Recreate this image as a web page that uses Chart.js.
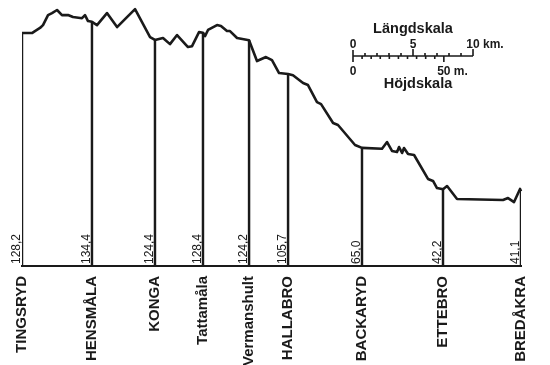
<!DOCTYPE html>
<html>
<head>
<meta charset="utf-8">
<script src="https://cdn.jsdelivr.net/npm/chart.js@4.4.0/dist/chart.umd.min.js"></script>
<style>
  html, body { margin: 0; padding: 0; background: #fff; }
  #wrap { width: 550px; height: 365px; }
</style>
</head>
<body>
<div id="wrap"><canvas id="myChart" width="550" height="365"></canvas></div>
<script>
// stations: name, distance from Tingsryd (km), height above sea (m)
const stationNames = ["TINGSRYD", "HENSMÅLA", "KONGA", "Tattamåla", "Vermanshult", "HALLABRO", "BACKARYD", "ETTEBRO", "BREDÅKRA"];
const stationKm = [0, 5.83, 11.08, 15.08, 18.92, 22.17, 28.33, 35.08, 41.58];
const stationHeight = [128.2, 134.4, 124.4, 128.4, 124.2, 105.7, 65.0, 42.2, 41.1];
const heightLabels = ["128,2", "134,4", "124,4", "128,4", "124,2", "105,7", "65,0", "42,2", "41,1"];

// track profile
const profileKm = [
  0, 0.83, 1.08, 1.5, 1.75, 2.17, 2.5, 2.92, 3.33, 3.83, 4.25, 5.0, 5.25, 5.5,
  5.83, 6.25, 7.08, 7.92, 8.75, 9.42, 10.67,
  11.08, 11.75, 12.33, 12.92, 13.83, 14.17, 14.75,
  15.08, 15.25, 15.5, 16.25, 16.58, 17.08, 17.33, 17.92,
  18.92, 19.58, 20.33, 20.83, 21.42,
  22.17, 22.58, 23.42, 23.83, 24.58, 24.92, 25.92, 26.33, 27.75,
  28.33, 30.0, 30.42, 30.83, 31.25, 31.42, 31.67, 31.83, 32.17, 32.67, 33.83, 34.25, 34.58,
  35.08, 35.42, 36.25, 40.08, 40.5, 41.0, 41.5, 41.58
];
const profileHeight = [
  128.2, 128.2, 129.3, 131.0, 132.6, 138.1, 139.2, 140.9, 138.1, 138.1, 137.0, 136.4, 138.1, 134.8,
  134.4, 132.6, 139.2, 131.5, 137.0, 141.4, 126.0,
  124.4, 125.5, 122.1, 127.1, 120.5, 121.0, 128.7,
  128.4, 126.5, 129.9, 132.6, 132.1, 129.3, 129.3, 125.5,
  124.2, 112.8, 115.0, 113.3, 106.2,
  105.7, 105.0, 100.7, 99.6, 90.2, 89.1, 78.7, 77.6, 66.6,
  65.0, 64.5, 68.2, 63.3, 62.7, 65.5, 62.2, 64.9, 61.6, 61.1, 47.9, 46.8, 42.9,
  42.2, 44.0, 36.9, 36.3, 37.4, 35.2, 42.4, 41.1
];

const ink = "#1a1a1a";
const fontFamily = "'Liberation Sans', Arial, sans-serif";
Chart.defaults.font.family = fontFamily;
Chart.defaults.color = ink;

// height numbers at the stations and the two scale bars
const profileText = {
  id: "profileText",
  afterDraw(chart) {
    const ctx = chart.ctx;
    const x = chart.scales.x;
    const y = chart.scales.y;
    const base = y.getPixelForValue(0);
    ctx.save();
    ctx.fillStyle = ink;
    ctx.strokeStyle = ink;
    ctx.font = "12px " + fontFamily;
    ctx.textAlign = "left";
    ctx.textBaseline = "alphabetic";
    heightLabels.forEach((txt, i) => {
      const px = x.getPixelForValue(stationKm[i]);
      ctx.save();
      ctx.translate(px - 2, base - 2);
      ctx.rotate(-Math.PI / 2);
      ctx.fillText(txt, 0, 0);
      ctx.restore();
    });

    // Längdskala / Höjdskala
    const kmLen = x.getPixelForValue(10) - x.getPixelForValue(0);
    const mLen = y.getPixelForValue(0) - y.getPixelForValue(50);
    const ox = 353, oy = 56;
    ctx.lineWidth = 1.6;
    ctx.beginPath();
    ctx.moveTo(ox, oy); ctx.lineTo(ox + kmLen, oy);
    ctx.moveTo(ox, oy - 6); ctx.lineTo(ox, oy + 6);
    ctx.moveTo(ox + kmLen, oy); ctx.lineTo(ox + kmLen, oy - 7);
    for (let k = 1; k < 10; k++) {
      const px = ox + kmLen * k / 10;
      ctx.moveTo(px, oy); ctx.lineTo(px, oy - (k === 5 ? 7 : 3));
    }
    for (let k = 1; k <= 10; k++) {
      const px = ox + mLen * k / 10;
      ctx.moveTo(px, oy); ctx.lineTo(px, oy + (k === 10 ? 6 : 3));
    }
    ctx.stroke();

    ctx.font = "bold 12px " + fontFamily;
    ctx.textAlign = "center";
    ctx.fillText("0", ox, oy - 8);
    ctx.fillText("5", ox + kmLen / 2, oy - 8);
    ctx.fillText("10", ox + kmLen, oy - 8);
    ctx.fillText("0", ox, oy + 19);
    ctx.fillText("50", ox + mLen, oy + 19);
    ctx.textAlign = "left";
    ctx.fillText("km.", ox + kmLen + 10, oy - 8);
    ctx.fillText("m.", ox + mLen + 10, oy + 19);

    ctx.font = "bold 14.5px " + fontFamily;
    ctx.textAlign = "center";
    ctx.fillText("Längdskala", ox + kmLen / 2, 33);
    ctx.fillText("Höjdskala", ox + kmLen / 2 + 5, 88);
    ctx.restore();
  }
};

const ctx = document.getElementById("myChart");
const chart = new Chart(ctx, {
  type: "line",
  data: {
    datasets: [
      {
        type: "line",
        data: profileKm.map((km, i) => ({ x: km, y: profileHeight[i] })),
        borderColor: ink,
        borderWidth: 2.6,
        borderJoinStyle: "round",
        pointRadius: 0,
        tension: 0,
        clip: false,
      },
      {
        type: "bar",
        data: stationKm.map((km, i) => ({ x: km, y: stationHeight[i] })),
        backgroundColor: ink,
        barThickness: 1.8,
      },
    ],
  },
  options: {
    responsive: false,
    animation: false,
    layout: { padding: { left: 22, right: 29, top: 0, bottom: 0 } },
    plugins: {
      legend: { display: false },
      tooltip: { enabled: false },
    },
    scales: {
      x: {
        type: "linear",
        min: 0,
        max: 41.58,
        offset: false,
        grid: { display: false, drawTicks: false },
        border: { display: true, color: ink, width: 2 },
        afterBuildTicks: (axis) => {
          axis.ticks = stationKm.map((v) => ({ value: v }));
        },
        afterFit: (axis) => {
          axis.height = 99;
        },
        ticks: {
          autoSkip: false,
          minRotation: 90,
          maxRotation: 90,
          padding: 10,
          color: ink,
          font: { size: 15, weight: "bold" },
          callback: (value, index) => stationNames[index],
        },
      },
      y: {
        display: false,
        min: 0,
        max: 146.4,
      },
    },
  },
  plugins: [profileText],
});
</script>
</body>
</html>
